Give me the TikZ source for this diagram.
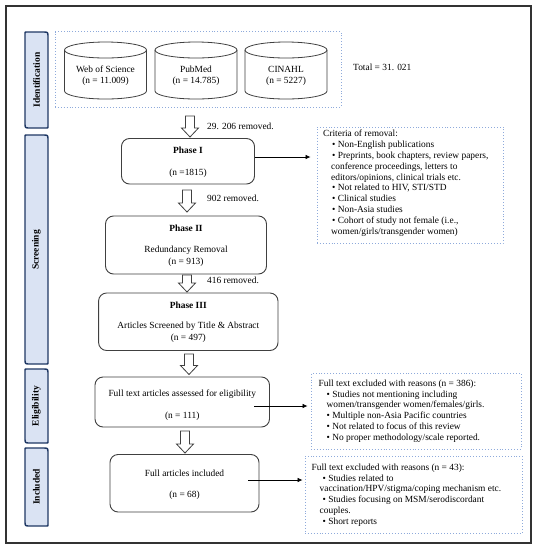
\documentclass[tikz,border=0pt]{standalone}
\usepackage{fontspec}
\setmainfont{Liberation Serif}
\usetikzlibrary{arrows.meta,calc}
\definecolor{navy}{HTML}{1F3864}
\definecolor{tabfill}{HTML}{DAE3F3}
\definecolor{dotblue}{HTML}{8EAADB}
\definecolor{boxgray}{HTML}{404040}
\definecolor{framegray}{HTML}{333333}
\newcommand\tabpath[4]{%
  \path[tabshape] ({#1+1.5},#2) -- ({#3-5},#2) .. controls (#3,#2) .. (#3,{#2+5})
    -- (#3,{#4-1.5}) .. controls (#3,#4) .. ({#3-1.5},#4)
    -- ({#1+5},#4) .. controls (#1,#4) .. (#1,{#4-5})
    -- (#1,{#2+1.5}) .. controls (#1,#2) .. ({#1+1.5},#2) -- cycle;}
\newcommand\dbcyl[1]{%
  \draw[cyl] (#1,50) ellipse [x radius=41, y radius=8];
  \draw[cyl] ({#1-41},50) -- ({#1-41},91) arc [start angle=180, end angle=0, x radius=41, y radius=8] -- ({#1+41},50);}
\newcommand\hollowarrow[3]{%
  \path[hollow] ({#1-4.5},#2) -- ({#1+4.5},#2) -- ({#1+4.5},{#3-9}) -- ({#1+8.5},{#3-9})
    -- (#1,#3) -- ({#1-8.5},{#3-9}) -- ({#1-4.5},{#3-9}) -- cycle;}
\begin{document}
\begin{tikzpicture}[x=1pt,y=-1pt,
  every node/.style={font=\fontsize{9.4}{10.8}\selectfont, inner sep=0pt},
  rbox/.style={draw=boxgray, line width=0.9pt, rounded corners=8pt},
  dbox/.style={draw=dotblue, dotted, line width=0.9pt},
  tablabel/.style={rotate=90, font=\fontsize{9.5}{10}\selectfont\bfseries},
  tabshape/.style={draw=navy, fill=tabfill, line width=1.4pt},
  cyl/.style={draw=boxgray, line width=0.8pt},
  hollow/.style={draw=boxgray, fill=white, line width=0.8pt, line join=miter},
  link/.style={draw=black, line width=0.7pt, -{Latex[length=5pt,width=4.5pt]}},
  lst/.style={align=left, anchor=north west},
  bold/.style={font=\fontsize{9.4}{10.8}\selectfont\bfseries},
]
\useasboundingbox (0,0) rectangle (537,550);
\fill[white] (0,0) rectangle (537,550);
\draw[framegray, line width=1.6pt] (6,6) rectangle (531,543);

% side tabs
\tabpath{25}{32}{48}{128}
\tabpath{25}{135}{48}{364}
\tabpath{25}{369}{48}{443}
\tabpath{25}{448}{48}{526}
\node[tablabel] (tIdent) at (36.5,80) {Identification};
\node[tablabel] (tScreen) at (36.5,250) {Screening};
\node[tablabel] (tElig) at (36.5,406) {Eligibility};
\node[tablabel] (tIncl) at (36.5,487) {Included};

% identification
\node[dbox, minimum width=286pt, minimum height=75.5pt] (ident) at (198,69.25) {};
\dbcyl{105.5}
\dbcyl{196}
\dbcyl{286}
\node[align=center] (wos) at (105.5,75.5) {Web of Science\\(n = 11.009)};
\node[align=center] (pubmed) at (196,75.5) {PubMed\\(n = 14.785)};
\node[align=center] (cinahl) at (286,75.5) {CINAHL\\(n = 5227)};
\node[anchor=west] (total) at (353,67) {Total = 31. 021};

% arrows and removed labels
\hollowarrow{190}{116}{137}
\node[anchor=west] (r1) at (207,126) {29. 206 removed.};
\hollowarrow{187}{190}{212}
\node[anchor=west] (r2) at (207,198.5) {902 removed.};
\hollowarrow{187}{275}{292}
\node[anchor=west] (r3) at (207,280) {416 removed.};
\hollowarrow{189}{354}{374.5}
\hollowarrow{185}{431}{453}

% phase boxes
\node[rbox, minimum width=133pt, minimum height=45.5pt] (p1) at (188,161.25) {};
\node[bold] (p1t) at (188,150.5) {Phase I};
\node (p1n) at (188,173.5) {(n =1815)};

\node[rbox, minimum width=161pt, minimum height=58pt] (p2) at (186,245) {};
\node[bold] (p2t) at (186,228.6) {Phase II};
\node (p2r) at (186,250.5) {Redundancy Removal};
\node (p2n) at (186,262) {(n = 913)};

\node[rbox, minimum width=179.4pt, minimum height=57.5pt] (p3) at (188.3,321.75) {};
\node[bold] (p3t) at (188.3,305) {Phase III};
\node (p3r) at (188.3,326.5) {Articles Screened by Title \& Abstract};
\node (p3n) at (188.3,338) {(n = 497)};

\node[rbox, minimum width=174.5pt, minimum height=50pt] (ft) at (182.25,402) {};
\node (ftt) at (182.25,394) {Full text articles assessed for eligibility};
\node (ftn) at (182.25,416.6) {(n = 111)};

\node[rbox, minimum width=149pt, minimum height=57.5pt] (fa) at (184.5,483.25) {};
\node (fat) at (184.5,473) {Full articles included};
\node (fan) at (184.5,495.6) {(n = 68)};

% criteria box
\node[dbox, minimum width=186pt, minimum height=116pt] (crit) at (410,185) {};
\node[lst] (critt) at (323,130) {Criteria of removal:\\
\hspace*{9pt}• Non-English publications\\
\hspace*{9pt}• Preprints, book chapters, review papers,\\
\hspace*{8pt}conference proceedings, letters to\\
\hspace*{8pt}editors/opinions, clinical trials etc.\\
\hspace*{9pt}• Not related to HIV, STI/STD\\
\hspace*{9pt}• Clinical studies\\
\hspace*{9pt}• Non-Asia studies\\
\hspace*{9pt}• Cohort of study not female (i.e.,\\
\hspace*{8pt}women/girls/transgender women)};

% excluded box 1
\node[dbox, minimum width=210pt, minimum height=75.6pt] (ex1) at (416,411.2) {};
\node[lst] (ex1t) at (318.5,379.5) {Full text excluded with reasons (n = 386):\\
\hspace*{8pt}• Studies not mentioning including\\
\hspace*{8pt}women/transgender women/females/girls.\\
\hspace*{8pt}• Multiple non-Asia Pacific countries\\
\hspace*{8pt}• Not related to focus of this review\\
\hspace*{8pt}• No proper methodology/scale reported.};

% excluded box 2
\node[dbox, minimum width=217pt, minimum height=77pt] (ex2) at (413.5,494.5) {};
\node[lst] (ex2t) at (311.5,463.5) {Full text excluded with reasons (n = 43):\\
\hspace*{11pt}• Studies related to\\
\hspace*{8pt}vaccination/HPV/stigma/coping mechanism etc.\\
\hspace*{11pt}• Studies focusing on MSM/serodiscordant\\
\hspace*{8pt}couples.\\
\hspace*{11pt}• Short reports};

% connectors
\coordinate (y1) at (0,157);
\coordinate (s2) at (254,406);
\coordinate (s3) at (248,480);
\draw[link, shorten >=6pt] (p1.east |- y1) -- (crit.west |- y1);
\draw[link, shorten >=3pt] (s2) -- (ex1.west |- s2);
\draw[link, shorten >=2pt] (s3) -- (ex2.west |- s3);
\end{tikzpicture}
\end{document}
